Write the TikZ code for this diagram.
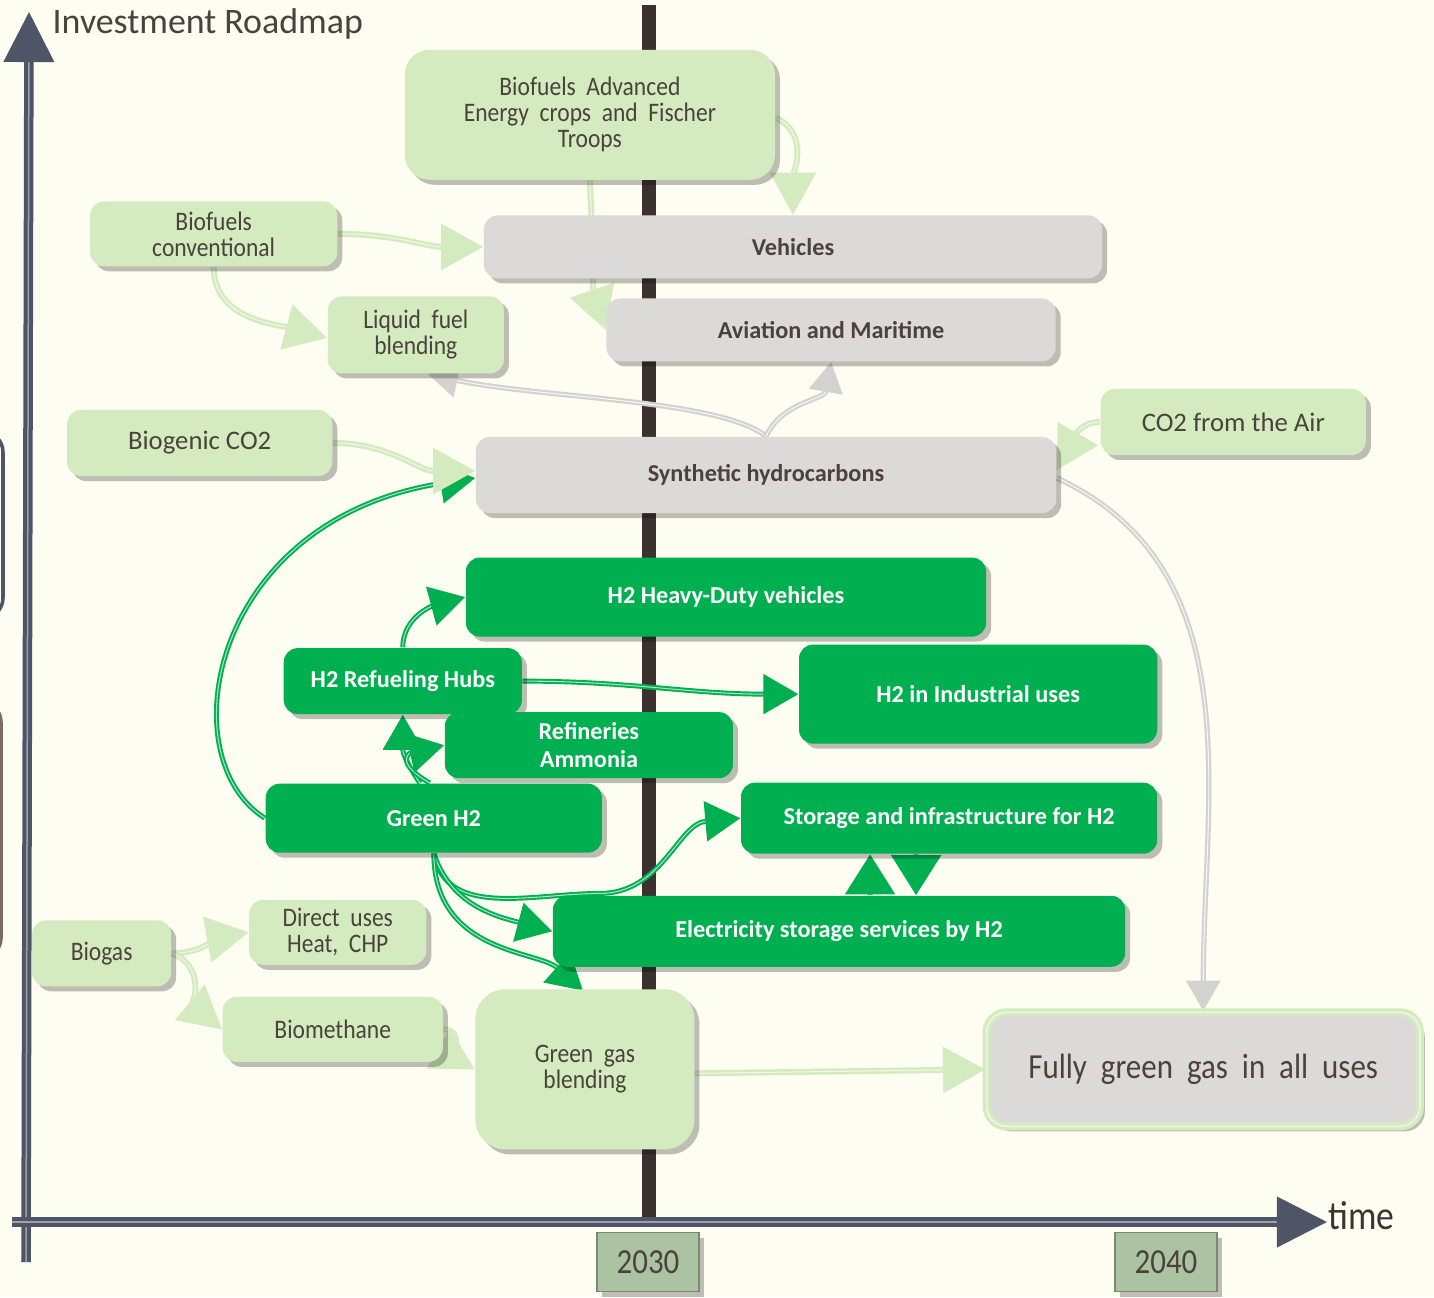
\documentclass[tikz,border=0pt]{standalone}
\usepackage{fontspec}
\setmainfont{Carlito}
\newfontfamily\condfont[FakeStretch=0.88,WordSpace=2]{Carlito}
\usetikzlibrary{arrows.meta,positioning,calc,shadows,backgrounds}
\definecolor{paper}{HTML}{FDFDF1}
\definecolor{leaf}{HTML}{D3EBBE}
\definecolor{forest}{HTML}{00B050}
\definecolor{stone}{HTML}{DBDAD8}
\definecolor{ink}{HTML}{4B413D}
\definecolor{slate}{HTML}{4E5567}
\definecolor{pole}{HTML}{3B3230}
\definecolor{sage}{HTML}{ABC3A1}
\definecolor{fog}{HTML}{D2D2D0}
\definecolor{umber}{HTML}{7A6C62}

\begin{document}
\begin{tikzpicture}[
    x=0.01cm,y=-0.01cm,on grid,
    softshadow/.style={drop shadow={shadow xshift=0.05cm,shadow yshift=-0.05cm,fill=black,opacity=0.25}},
    lbox/.style={fill=leaf,rounded corners=0.14cm,inner sep=0pt,align=center,text=ink,font=\condfont\fontsize{7.6}{7.4}\selectfont,softshadow},
    wbox/.style={lbox,font=\fontsize{7.6}{8}\selectfont},
    gbox/.style={fill=stone,rounded corners=0.14cm,inner sep=0pt,align=center,text=ink,font=\bfseries\fontsize{6.9}{8}\selectfont,softshadow},
    hbox/.style={fill=forest,rounded corners=0.14cm,inner sep=0pt,align=center,text=white,font=\bfseries\fontsize{6.9}{8}\selectfont,softshadow},
    fbox/.style={fill=stone,draw=leaf,line width=0.9pt,double=leaf!45!white,double distance=0.5pt,rounded corners=0.2cm,inner sep=0pt,align=center,text=ink,font=\condfont\fontsize{10}{12}\selectfont,softshadow},
    yearbox/.style={fill=sage,draw=sage!70!black,inner sep=0pt,minimum width=1.02cm,minimum height=0.59cm,text=ink,font=\condfont\fontsize{10}{12}\selectfont,softshadow},
    larr/.style={-{Triangle[length=0.42cm,width=0.46cm]},leaf,line width=0.7pt,double=leaf!35!white,double distance=0.3pt},
    garr/.style={-{Triangle[length=0.35cm,width=0.4cm]},forest,line width=0.55pt,double=forest!35!white,double distance=0.3pt},
    darr/.style={-{Triangle[length=0.3cm,width=0.34cm]},fog,line width=0.6pt,double=white!80!fog,double distance=0.3pt},
    bigarr/.style={-{Triangle[length=0.4cm,width=0.5cm]},forest,line width=0.55pt,double=forest!35!white,double distance=0.3pt},
    axis/.style={-{Triangle[length=0.5cm,width=0.5cm]},slate,line width=0.04cm,double=slate!55!white,double distance=0.015cm}
  ]
  \useasboundingbox (0,0) rectangle (1434,1297);

  % boxes
  \node[gbox,minimum width=5.80cm,minimum height=0.76cm] (syn) at (766,475) {Synthetic hydrocarbons};
  \node[gbox,minimum width=6.18cm,minimum height=0.63cm,above right=2.28cm and 0.27cm of syn] (veh) {Vehicles};
  \node[gbox,minimum width=4.49cm,minimum height=0.63cm,above right=1.45cm and 0.65cm of syn] (avi) {Aviation and Maritime};
  \node[lbox,rounded corners=0.25cm,minimum width=3.70cm,minimum height=1.30cm,above left=3.60cm and 1.76cm of syn] (adv) {Biofuels Advanced\\Energy crops and Fischer\\Troops};
  \node[lbox,minimum width=2.47cm,minimum height=0.65cm,below left=1.19cm and 3.76cm of adv] (conv) {Biofuels\\conventional};
  \node[lbox,minimum width=1.76cm,minimum height=0.77cm,below right=1.01cm and 2.02cm of conv] (liq) {Liquid fuel\\blending};
  \node[wbox,minimum width=2.65cm,minimum height=0.66cm,above left=0.32cm and 5.66cm of syn] (bco) {Biogenic CO2};
  \node[wbox,minimum width=2.65cm,minimum height=0.66cm,above right=0.53cm and 4.67cm of syn] (air) {CO2 from the Air};
  \node[hbox,minimum width=5.20cm,minimum height=0.79cm,below left=1.22cm and 0.40cm of syn] (hdv) {H2 Heavy-Duty vehicles};
  \node[hbox,minimum width=2.38cm,minimum height=0.66cm,below left=0.84cm and 3.23cm of hdv] (hub) {H2 Refueling Hubs};
  \node[hbox,minimum width=3.58cm,minimum height=0.99cm,below right=0.97cm and 2.52cm of hdv] (ind) {H2 in Industrial uses};
  \node[hbox,minimum width=2.88cm,minimum height=0.66cm,below right=0.64cm and 1.86cm of hub] (ref) {Refineries\\Ammonia};
  \node[hbox,minimum width=3.36cm,minimum height=0.69cm,below right=1.37cm and 0.31cm of hub] (gh2) {Green H2};
  \node[hbox,minimum width=4.16cm,minimum height=0.71cm,right=5.15cm of gh2] (sto) {Storage and infrastructure for H2};
  \node[hbox,minimum width=5.72cm,minimum height=0.71cm,below left=1.13cm and 1.10cm of sto] (ele) {Electricity storage services by H2};
  \node[lbox,rounded corners=0.3cm,minimum width=2.19cm,minimum height=1.60cm,below right=2.51cm and 1.51cm of gh2] (ggb) {Green gas\\blending};
  \node[lbox,minimum width=2.20cm,minimum height=0.65cm,above left=0.40cm and 2.52cm of ggb] (bme) {Biomethane};
  \node[lbox,minimum width=1.39cm,minimum height=0.66cm,above left=0.76cm and 2.31cm of bme] (bgs) {Biogas};
  \node[lbox,minimum width=1.77cm,minimum height=0.65cm,above right=0.21cm and 2.36cm of bgs] (dir) {Direct uses\\Heat, CHP};
  \node[fbox,minimum width=4.33cm,minimum height=1.14cm,right=6.18cm of ggb] (fgg) {Fully green gas in all uses};

  % time axis labels
  \node[yearbox] (y30) at (648,1262) {2030};
  \node[yearbox] (y40) at (1166,1262) {2040};
  \node[anchor=west,inner sep=0pt,text=ink,font=\fontsize{10.2}{12}\selectfont] (title) at (52,24) {Investment Roadmap};
  \node[anchor=west,inner sep=0pt,text=ink!80!black,font=\condfont\fontsize{11.5}{12}\selectfont] (tlabel) at (1328,1216) {time};

  \coordinate (top30) at (649,5);
  \coordinate (bot30) at (649,1226);
  \coordinate (ybot) at (26,1262);
  \coordinate (ytop) at (29,12);
  \coordinate (xleft) at (12,1222);
  \coordinate (xright) at (1327,1222);

  \begin{scope}[on background layer]
    \fill[paper] (0,0) rectangle (1434,1297);
    \begin{scope}
      \clip (0,0) rectangle (1434,1297);
      \draw[slate,line width=0.035cm,rounded corners=0.2cm] (-100,432) rectangle (3,618);
      \draw[umber,line width=0.035cm,rounded corners=0.2cm] (-100,702) rectangle (1,958);
    \end{scope}
    \draw[pole,line width=0.14cm] (top30) -- (bot30);

    % connectors
    \draw[larr] (adv.south) .. controls +(4,90) and +(-12,-35) .. (avi.west);
    \draw[larr] ($(adv.east)+(0,3)$) to[out=-25,in=90] (veh.north);
    \draw[larr] (conv.east) to[out=0,in=180] (veh.west);
    \draw[larr] (conv.south) to[out=-90,in=165] ($(liq.west)+(0,3)$);
    \draw[darr] (syn.north) .. controls +(-46,-37) and +(112,24) .. ($(liq.south)+(12,0)$);
    \draw[darr] (syn.north) to[out=65,in=-100] (avi.south);
    \draw[garr] (gh2.west) .. controls +(-96,-60) and +(-266,42) .. ($(syn.west)+(0,3)$);
    \draw[larr] (bco.east) to[out=0,in=180] ($(syn.west)+(0,-4)$);
    \draw[larr] (air.west) to[out=180,in=60] ($(syn.east)+(0,-5)$);
    \draw[darr] ($(syn.east)+(0,3)$) to[out=-25,in=90] (fgg.north);
    \draw[garr] (hub.north) to[out=90,in=195] (hdv.west);
    \draw[garr] (hub.east) to[out=0,in=180] (ind.west);
    \draw[garr] ($(gh2.north)+(-14,0)$) .. controls +(-10,-15) and +(0,40) .. (hub.south);
    \draw[garr] ($(gh2.north)+(-4,0)$) .. controls +(-35,-20) and +(-35,8) .. (ref.west);
    \draw[garr] (gh2.south) to[out=-80,in=180] ++(166,40) to[out=0,in=185] (sto.west);
    \draw[garr] (gh2.south) to[out=-72,in=165] (ele.west);
    \draw[garr] (gh2.south) .. controls +(0,100) and +(-45,-40) .. ($(ggb.north)+(-2,2)$);
    \draw[bigarr] ($(ele.north)+(31,0)$) -- ($(sto.south)+(-79,0)$);
    \draw[bigarr] ($(sto.south)+(-33,0)$) -- ($(ele.north)+(77,0)$);
    \draw[larr] (bgs.east) to[out=0,in=190] (dir.west);
    \draw[larr] (bgs.east) to[out=-20,in=140] (bme.west);
    \draw[larr] (bme.east) to[out=0,in=150] (ggb.west);
    \draw[larr] ($(ggb.east)+(0,4)$) -- (fgg.west);
  \end{scope}

  % axes
  \draw[axis] (ybot) -- (ytop);
  \draw[axis] (xleft) -- (xright);
\end{tikzpicture}
\end{document}
